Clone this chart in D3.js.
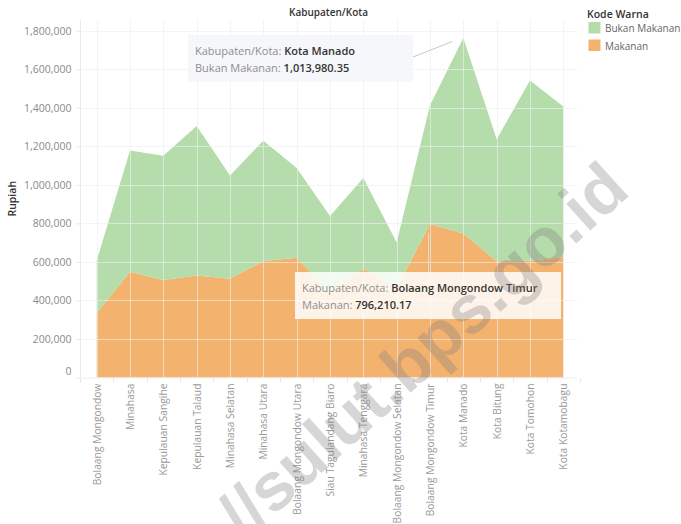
<!DOCTYPE html>
<html>
<head>
<meta charset="utf-8">
<script src="https://cdn.jsdelivr.net/npm/d3@7"></script>
<style>
  body { margin: 0; background: #fff; }
  svg { display: block; font-family: "Open Sans", "DejaVu Sans", sans-serif; }
</style>
</head>
<body>
<script>
// data (rupiah per kapita per bulan)
var kabupaten = ["Bolaang Mongondow", "Minahasa", "Kepulauan Sangihe", "Kepulauan Talaud",
    "Minahasa Selatan", "Minahasa Utara", "Bolaang Mongondow Utara", "Siau Tagulandang Biaro",
    "Minahasa Tenggara", "Bolaang Mongondow Selatan", "Bolaang Mongondow Timur",
    "Kota Manado", "Kota Bitung", "Kota Tomohon", "Kota Kotamobagu"];
var makanan = [335000, 549000, 506000, 530000, 513000, 605000, 622000, 440000,
    565000, 466000, 796210.17, 748000, 603000, 606000, 626000];
var bukanMakanan = [271000, 629000, 645000, 776000, 536000, 624000, 465000, 398000,
    470000, 235000, 617000, 1013980.35, 634000, 935000, 780000];
var seriesNames = ["Makanan", "Bukan Makanan"];
var yTicks = [0, 200000, 400000, 600000, 800000, 1000000, 1200000, 1400000, 1600000, 1800000];

var width = 681, height = 524;
var colors = {"Bukan Makanan": "#b5dcab", "Makanan": "#f4b26f"};

var rows = kabupaten.map(function(k, i) {
    return {kab: k, "Makanan": makanan[i], "Bukan Makanan": bukanMakanan[i]};
});

var svg = d3.select("body").append("svg")
    .attr("width", width)
    .attr("height", height);

var plotTop = 20, plotBottom = 377.5, plotLeft = 80, plotRight = 577;

var x = d3.scalePoint()
    .domain(kabupaten)
    .range([plotLeft, 580])
    .padding(0.5);

var y = d3.scaleLinear()
    .domain([0, 1800000])
    .range([plotBottom, 30.7]);

var stacked = d3.stack().keys(seriesNames)(rows);

var area = d3.area()
    .x(function(d) { return x(d.data.kab); })
    .y0(function(d) { return y(d[0]); })
    .y1(function(d) { return y(d[1]); });

svg.append("g").selectAll("path")
    .data(stacked)
    .enter()
    .append("path")
    .attr("d", area)
    .attr("fill", function(d) { return colors[d.key]; });

// grid lines on top of the fills
var grid = svg.append("g")
    .attr("stroke", "#eeeeee")
    .attr("stroke-opacity", 0.65)
    .attr("stroke-width", 1);

grid.selectAll(".hgrid")
    .data(yTicks.slice(1))
    .enter()
    .append("line")
    .attr("x1", plotLeft).attr("x2", plotRight)
    .attr("y1", function(d) { return Math.round(y(d)) + 0.5; })
    .attr("y2", function(d) { return Math.round(y(d)) + 0.5; });

grid.selectAll(".vgrid")
    .data(kabupaten)
    .enter()
    .append("line")
    .attr("x1", function(d) { return Math.round(x(d)) + 0.5; })
    .attr("x2", function(d) { return Math.round(x(d)) + 0.5; })
    .attr("y1", plotTop).attr("y2", plotBottom);

// y axis
var yAxis = svg.append("g")
    .attr("transform", "translate(" + (plotLeft + 0.5) + ",0)")
    .call(d3.axisLeft(y).tickValues(yTicks).tickSize(4).tickPadding(5)
        .tickFormat(d3.format(",")));
yAxis.select(".domain").remove();
yAxis.selectAll(".tick line").attr("stroke", "#e6e6e6");
yAxis.selectAll(".tick text")
    .attr("fill", "#8a8a8a")
    .style("font-size", "10.5px")
    .style("font-family", "\"Open Sans\", sans-serif");
yAxis.selectAll(".tick")
    .filter(function(d) { return d === 0; })
    .select("text")
    .attr("dy", "-0.3em");

svg.append("line")
    .attr("x1", plotLeft + 0.5).attr("x2", plotLeft + 0.5)
    .attr("y1", plotTop).attr("y2", plotBottom)
    .attr("stroke", "#eaeaea");

// x axis
svg.append("line")
    .attr("x1", plotLeft).attr("x2", plotRight)
    .attr("y1", plotBottom + 0.5).attr("y2", plotBottom + 0.5)
    .attr("stroke", "#eeeeee");

var step = x.step();
svg.append("g").selectAll("line")
    .data(d3.range(kabupaten.length + 1))
    .enter()
    .append("line")
    .attr("x1", function(i) { return Math.round(plotLeft + i * step) + 0.5; })
    .attr("x2", function(i) { return Math.round(plotLeft + i * step) + 0.5; })
    .attr("y1", plotBottom + 1).attr("y2", plotBottom + 5)
    .attr("stroke", "#e4e4e4");

svg.append("g").selectAll("text")
    .data(kabupaten)
    .enter()
    .append("text")
    .attr("transform", function(d) {
        return "translate(" + (x(d) + 4) + "," + (plotBottom + 6) + ") rotate(-90)";
    })
    .attr("text-anchor", "end")
    .attr("fill", "#9a9a9a")
    .style("font-size", "10.3px")
    .text(function(d) { return d; });

// titles
svg.append("text")
    .attr("x", (plotLeft + plotRight) / 2)
    .attr("y", 16)
    .attr("text-anchor", "middle")
    .attr("fill", "#333")
    .style("font-size", "10px")
    .style("font-weight", 600)
    .text("Kabupaten/Kota");

svg.append("text")
    .attr("transform", "translate(16," + ((plotTop + plotBottom) / 2) + ") rotate(-90)")
    .attr("text-anchor", "middle")
    .attr("fill", "#333")
    .style("font-size", "10.5px")
    .style("font-weight", 600)
    .text("Rupiah");

// legend
var legend = svg.append("g").attr("transform", "translate(587,0)");
legend.append("text")
    .attr("x", 0).attr("y", 18)
    .attr("fill", "#333")
    .style("font-size", "10.5px")
    .style("font-weight", 600)
    .text("Kode Warna");

var legendKeys = ["Bukan Makanan", "Makanan"];
legendKeys.forEach(function(k, i) {
    legend.append("rect")
        .attr("x", 1.5).attr("y", 22 + i * 17.5)
        .attr("width", 12).attr("height", 11.5)
        .attr("fill", colors[k]);
    legend.append("text")
        .attr("x", 18).attr("y", 32 + i * 17.5)
        .attr("fill", "#666")
        .style("font-size", "10px")
        .text(k);
});

// annotations
function note(bx, by, bw, bh, fill, opacity, label1, value1, label2, value2) {
    var g = svg.append("g");
    g.append("rect")
        .attr("x", bx).attr("y", by)
        .attr("width", bw).attr("height", bh)
        .attr("fill", fill)
        .attr("fill-opacity", opacity);
    var t1 = g.append("text").attr("x", bx + 7).attr("y", by + 20)
        .style("font-size", "11px");
    t1.append("tspan").attr("fill", "#8f8f8f").text(label1);
    t1.append("tspan").attr("fill", "#333").style("font-weight", 600).text(value1);
    var t2 = g.append("text").attr("x", bx + 7).attr("y", by + 37)
        .style("font-size", "11px");
    t2.append("tspan").attr("fill", "#8f8f8f").text(label2);
    t2.append("tspan").attr("fill", "#333").style("font-weight", 600).text(value2);
}

var iManado = kabupaten.indexOf("Kota Manado");
var manadoX = x("Kota Manado"), manadoY = y(makanan[iManado] + bukanMakanan[iManado]);
svg.append("line")
    .attr("x1", 413).attr("y1", 57)
    .attr("x2", manadoX - 11).attr("y2", manadoY + 3.5)
    .attr("stroke", "#c8c8c8");
note(188, 35, 225, 47, "#f4f6f9", 0.9,
    "Kabupaten/Kota: ", "Kota Manado",
    "Bukan Makanan: ", d3.format(",.2f")(bukanMakanan[iManado]));

var iTimur = kabupaten.indexOf("Bolaang Mongondow Timur");
var timurX = x("Bolaang Mongondow Timur"), timurY = y(makanan[iTimur]);
svg.append("line")
    .attr("x1", timurX - 1.5).attr("x2", timurX - 1.5)
    .attr("y1", timurY + 9).attr("y2", 272)
    .attr("stroke", "#dcdcdc");
note(295, 272, 266, 47, "#ffffff", 0.84,
    "Kabupaten/Kota: ", "Bolaang Mongondow Timur",
    "Makanan: ", d3.format(",.2f")(makanan[iTimur]));

// watermark
svg.append("text")
    .attr("transform", "translate(422,350) rotate(-42)")
    .attr("text-anchor", "middle")
    .attr("dominant-baseline", "central")
    .attr("fill", "#808080")
    .attr("fill-opacity", 0.32)
    .style("font-family", "\"Liberation Sans\", Arial, sans-serif")
    .style("font-weight", "bold")
    .style("font-size", "68px")
    .text("//sulut.bps.go.id");
</script>
</body>
</html>
